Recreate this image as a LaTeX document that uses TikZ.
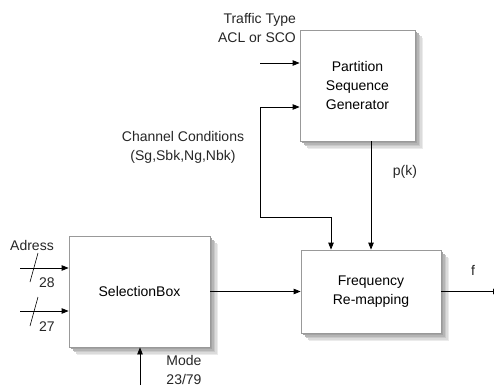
\documentclass[tikz,border=0pt]{standalone}
\usepackage{fontspec}
\setmainfont{Liberation Sans}
\usetikzlibrary{arrows.meta}

\tikzset{
  block/.style={draw=black!40, line width=0.8pt, fill=white, align=center},
  conn/.style={line width=0.8pt, -{Triangle[length=7pt,width=5.5pt]}},
  lbl/.style={align=center, inner sep=0pt, text=black!85}
}

\begin{document}
\begin{tikzpicture}[x=1pt,y=-1pt,font=\fontsize{14}{19}\selectfont]
    % Border
    \useasboundingbox (0,0) rectangle (494,390);

    % Soft shadows (outer, lighter ones first), then the blocks on top
    \foreach \px/\py/\qx/\qy in {300/30/415/141, 69/236/210/347, 301/250/441/333} {
      \foreach \s/\g in {8/8,6.5/14,5/21,3.5/29,2/36} {
        \fill[black!\g] (\px+\s,\py+\s) rectangle (\qx+\s,\qy+\s);
      }
    }

    % Blocks
    \node[block, minimum width=115pt, minimum height=111pt] (psg) at (357.5,85.5)
      {Partition\\Sequence\\Generator};
    \node[block, minimum width=141pt, minimum height=111pt] (sel) at (139.5,291.5)
      {SelectionBox};
    \node[block, minimum width=140pt, minimum height=83pt] (freq) at (371,291.5)
      {Frequency\\Re-mapping};

    % Free ends of the inputs and output
    \coordinate (tt) at (260,63);
    \coordinate (cc) at (260,217);
    \coordinate (a28) at (20,268);
    \coordinate (a27) at (20,311);
    \coordinate (mode) at (140,385);
    \coordinate (fout) at (500,291.5);

    % Connections
    \begin{scope}
      \clip (0,0) rectangle (494,390);
      \draw[conn] (tt) -- (tt -| psg.west);
      \draw[conn, {Triangle[length=7pt,width=5.5pt]}-{Triangle[length=7pt,width=5.5pt]}]
        ([yshift=-21.5pt]psg.west) -| (cc) -| ([xshift=-40pt]freq.north);
      \draw[conn] (psg.south -| freq.north) -- (freq.north);
      \draw[conn] (sel.east) -- (freq.west);
      \draw[conn] (freq.east) -- (fout);
      \draw[conn] (a28) -- (a28 -| sel.west);
      \draw[conn] (a27) -- (a27 -| sel.west);
      \draw[conn] (mode) -- (mode |- sel.south);
    \end{scope}

    % Bus width marks
    \draw[line width=0.6pt] (30,282) -- (38,253);
    \draw[line width=0.6pt] (30,326) -- (38,297);

    % Labels
    \node[lbl, align=right] (ttl) at (257,28) {Traffic Type\\ACL or SCO};
    \node[lbl] (ccl) at (183,147) {Channel Conditions\\(Sg,Sbk,Ng,Nbk)};
    \node[lbl] (pk) at (405,172) {p(k)};
    \node[lbl] (fl) at (473,270) {f};
    \node[lbl] (adr) at (32,245) {Adress};
    \node[lbl] (n28) at (47,283) {28};
    \node[lbl] (n27) at (47,327) {27};
    \node[lbl] (model) at (184,370) {Mode\\23/79};
\end{tikzpicture}
\end{document}
